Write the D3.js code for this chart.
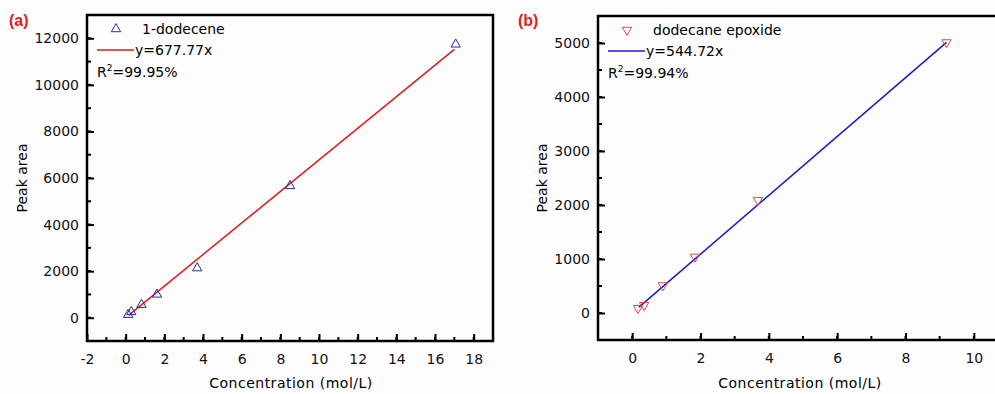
<!DOCTYPE html>
<html>
<head>
<meta charset="utf-8">
<script src="https://cdn.jsdelivr.net/npm/d3@7"></script>
<style>
  body { margin: 0; background: #fdfdfe; }
  svg { display: block; font-family: "DejaVu Sans", "Liberation Sans", Arial, sans-serif; }
  .tick text { font-size: 14px; fill: #111; font-family: "DejaVu Sans", sans-serif; }
</style>
</head>
<body>
<div id="chart"></div>
<script>
// data
var dodeceneX = [0.13, 0.29, 0.82, 1.62, 3.7, 8.5, 17.07];
var dodeceneY = [130, 250, 560, 1000, 2130, 5660, 11740];
var dodeceneSlope = 677.77;

var epoxideX = [0.17, 0.35, 0.9, 1.84, 3.68, 9.2];
var epoxideY = [90, 145, 510, 1040, 2090, 5010];
var epoxideSlope = 544.72;

var xTicksA = [-2, 0, 2, 4, 6, 8, 10, 12, 14, 16, 18];
var yTicksA = [0, 2000, 4000, 6000, 8000, 10000, 12000];
var xTicksB = [0, 2, 4, 6, 8, 10];
var yTicksB = [0, 1000, 2000, 3000, 4000, 5000];

var svg = d3.select("#chart").append("svg")
    .attr("width", 995)
    .attr("height", 394);

// plain number labels, ascii hyphen for negatives
var fmt = d => String(d);

function panel(opt) {
    var g = svg.append("g");
    var x = d3.scaleLinear().domain(opt.xDomain).range([opt.left, opt.right]);
    var y = d3.scaleLinear().domain(opt.yDomain).range([opt.bottom, opt.top]);

    // minor ticks
    var xMinor = d3.range(Math.ceil(opt.xDomain[0]), opt.xDomain[1] + 0.001, opt.xMinor);
    var yMinor = d3.range(opt.yDomain[0], opt.yDomain[1] + 1, opt.yMinor);
    g.selectAll(".xm").data(xMinor).enter().append("line")
        .attr("x1", d => x(d)).attr("x2", d => x(d))
        .attr("y1", opt.bottom).attr("y2", opt.bottom - 4)
        .attr("stroke", "#000").attr("stroke-width", 2);
    g.selectAll(".ym").data(yMinor).enter().append("line")
        .attr("y1", d => y(d)).attr("y2", d => y(d))
        .attr("x1", opt.left).attr("x2", opt.left + 4)
        .attr("stroke", "#000").attr("stroke-width", 2);

    // axes with inward ticks
    var xAxis = d3.axisBottom(x).tickValues(opt.xTicks).tickFormat(fmt)
        .tickSizeInner(-7).tickSizeOuter(0).tickPadding(13);
    var yAxis = d3.axisLeft(y).tickValues(opt.yTicks).tickFormat(fmt)
        .tickSizeInner(-7).tickSizeOuter(0).tickPadding(8);
    var gx = g.append("g").attr("transform", `translate(0,${opt.bottom})`).call(xAxis);
    var gy = g.append("g").attr("transform", `translate(${opt.left},0)`).call(yAxis);
    [gx, gy].forEach(a => {
        a.select(".domain").remove();
        a.selectAll(".tick line").attr("stroke-width", 2);
    });

    // frame
    g.append("rect")
        .attr("x", opt.left).attr("y", opt.top)
        .attr("width", opt.right - opt.left).attr("height", opt.bottom - opt.top)
        .attr("fill", "none").attr("stroke", "#000").attr("stroke-width", 2.5);

    // fit line
    g.append("line")
        .attr("x1", x(opt.fitFrom)).attr("y1", y(opt.slope * opt.fitFrom))
        .attr("x2", x(opt.fitTo)).attr("y2", y(opt.slope * opt.fitTo))
        .attr("stroke", opt.lineColor).attr("stroke-width", 1.5);

    // markers
    var sym = d3.symbol().type(d3.symbolTriangle).size(38);
    g.selectAll(".pt").data(opt.xs).enter().append("path")
        .attr("d", sym)
        .attr("transform", (d, i) => `translate(${x(d)},${y(opt.ys[i])}) rotate(${opt.flip ? 180 : 0})`)
        .attr("fill", "none").attr("stroke", opt.markColor).attr("stroke-width", 1);

    // legend
    var lx = opt.left;
    g.append("path").attr("d", sym)
        .attr("transform", `translate(${lx + 29},${opt.top + 14}) rotate(${opt.flip ? 180 : 0})`)
        .attr("fill", "none").attr("stroke", opt.markColor).attr("stroke-width", 1);
    g.append("text").attr("x", lx + 55).attr("y", opt.top + 19)
        .attr("font-size", 14).text(opt.name);
    g.append("line").attr("x1", lx + 10).attr("x2", lx + 47)
        .attr("y1", opt.top + 35).attr("y2", opt.top + 35)
        .attr("stroke", opt.lineColor).attr("stroke-width", 1.5);
    g.append("text").attr("x", lx + 48).attr("y", opt.top + 40)
        .attr("font-size", 14).text(opt.eq);
    var r = g.append("text").attr("x", lx + 10).attr("y", opt.top + 62).attr("font-size", 14);
    r.append("tspan").text("R");
    r.append("tspan").attr("font-size", 9).attr("dy", -6).text("2");
    r.append("tspan").attr("dy", 6).text("=" + opt.r2);

    // titles
    svg.append("text")
        .attr("x", opt.tagX).attr("y", 26)
        .attr("fill", "#e0201b").attr("font-weight", "bold").attr("font-size", 16)
        .attr("font-family", "Liberation Sans, Arial, sans-serif")
        .text(opt.tag);
    svg.append("text")
        .attr("transform", `translate(${opt.left - opt.yTitleGap},${(opt.top + opt.bottom) / 2}) rotate(-90)`)
        .attr("text-anchor", "middle").attr("font-size", 14)
        .text("Peak area");
    svg.append("text")
        .attr("x", opt.xTitleX).attr("y", 388)
        .attr("text-anchor", "middle").attr("font-size", 14)
        .attr("letter-spacing", 0.5)
        .text("Concentration (mol/L)");
}

panel({
    left: 87, right: 493, top: 15, bottom: 341,
    xDomain: [-2, 19], yDomain: [-1000, 13000],
    xMinor: 1, yMinor: 1000,
    xTicks: xTicksA, yTicks: yTicksA,
    xs: dodeceneX, ys: dodeceneY, slope: dodeceneSlope,
    fitFrom: 0.15, fitTo: 17.0, flip: false,
    lineColor: "#e01a1a", markColor: "#2a2aa0",
    name: "1-dodecene", eq: "y=677.77x", r2: "99.95%",
    tag: "(a)", tagX: 9, xTitleX: 291, yTitleGap: 60
});

panel({
    left: 598, right: 1008, top: 16, bottom: 340,
    xDomain: [-1, 11], yDomain: [-500, 5500],
    xMinor: 1, yMinor: 500,
    xTicks: xTicksB, yTicks: yTicksB,
    xs: epoxideX, ys: epoxideY, slope: epoxideSlope,
    fitFrom: 0.2, fitTo: 9.2, flip: true,
    lineColor: "#1a1ac8", markColor: "#d84a4a",
    name: "dodecane epoxide", eq: "y=544.72x", r2: "99.94%",
    tag: "(b)", tagX: 518, xTitleX: 800, yTitleGap: 51
});
</script>
</body>
</html>
